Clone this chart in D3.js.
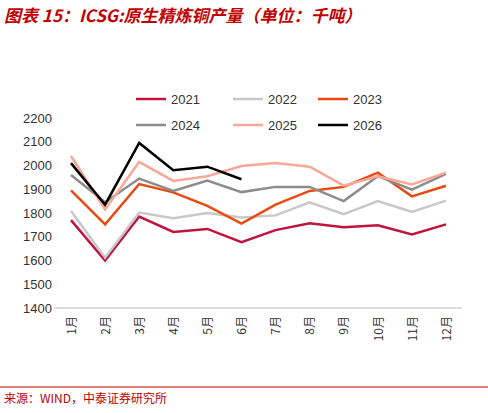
<!DOCTYPE html><html><head><meta charset="utf-8"><script src="https://cdn.jsdelivr.net/npm/d3@7"></script>
<style>body{margin:0;background:#fff}</style></head><body><svg id="c" width="488" height="413"></svg><script>
const months=["1月","2月","3月","4月","5月","6月","7月","8月","9月","10月","11月","12月"];
const years=["2021","2022","2023","2024","2025","2026"];
const colors=["#c0143c","#c8c8c8","#e84a10","#8c8c8c","#f7a898","#000000"];
const v2021=[1770,1600,1785,1720,1733,1677,1728,1757,1740,1748,1710,1752];
const v2022=[1808,1612,1802,1778,1800,1781,1790,1845,1795,1850,1805,1852];
const v2023=[1895,1752,1922,1887,1830,1755,1835,1893,1910,1970,1870,1915];
const v2024=[1960,1845,1945,1893,1937,1888,1910,1910,1850,1955,1898,1965];
const v2025=[2040,1815,2015,1935,1955,1998,2010,1995,1915,1955,1920,1970];
const v2026=[2010,1835,2095,1980,1995,1942];
const yTicks=[1400,1500,1600,1700,1800,1900,2000,2100,2200];
const series=[v2021,v2022,v2023,v2024,v2025,v2026];
const svg=d3.select("#c");
svg.append("text").attr("x",4).attr("y",22).attr("fill","#c00000").attr("font-size",17).attr("font-weight","bold").attr("font-style","italic").attr("font-family","Noto Sans CJK SC").text("图表 15：ICSG:原生精炼铜产量（单位：千吨）");
const x=d3.scalePoint().domain(months).range([71,446]);
const y=d3.scaleLinear().domain([1400,2200]).range([308,118]);
const g=svg.append("g").attr("font-family","Liberation Sans");
g.append("g").attr("transform","translate(54,0)").call(d3.axisLeft(y).tickValues(yTicks).tickSize(0).tickFormat(d3.format("d"))).call(a=>a.select(".domain").remove()).selectAll("text").attr("font-size",13).attr("fill","#333").attr("x",-2);
g.append("line").attr("x1",54).attr("x2",462).attr("y1",308).attr("y2",308).attr("stroke","#bbb");
g.append("g").attr("transform","translate(0,308)").call(d3.axisBottom(x).tickSize(0)).call(a=>a.select(".domain").remove()).selectAll("text").attr("font-size",12).attr("fill","#333").attr("font-family","Noto Sans CJK SC").attr("transform","rotate(-90)").attr("text-anchor","end").attr("x",-8).attr("y",0).attr("dy","0.35em");
const line=d3.line().x((d,i)=>x(months[i])).y(d=>y(d));
series.forEach((s,i)=>g.append("path").datum(s).attr("d",line).attr("fill","none").attr("stroke",colors[i]).attr("stroke-width",2.5));
const lx=[136,233,318],ly=[99,125];
years.forEach((yr,i)=>{const px=lx[i%3],py=ly[Math.floor(i/3)];
g.append("line").attr("x1",px).attr("x2",px+30).attr("y1",py).attr("y2",py).attr("stroke",colors[i]).attr("stroke-width",2.5);
g.append("text").attr("x",px+35).attr("y",py+5).attr("font-size",13).attr("fill","#333").text(yr);});
svg.append("line").attr("x1",0).attr("x2",488).attr("y1",387).attr("y2",387).attr("stroke","#c00000").attr("stroke-width",1);
svg.append("text").attr("x",4).attr("y",403).attr("font-size",12).attr("fill","#c00000").attr("font-family","Noto Sans CJK SC").text("来源：WIND，中泰证券研究所");
</script></body></html>
